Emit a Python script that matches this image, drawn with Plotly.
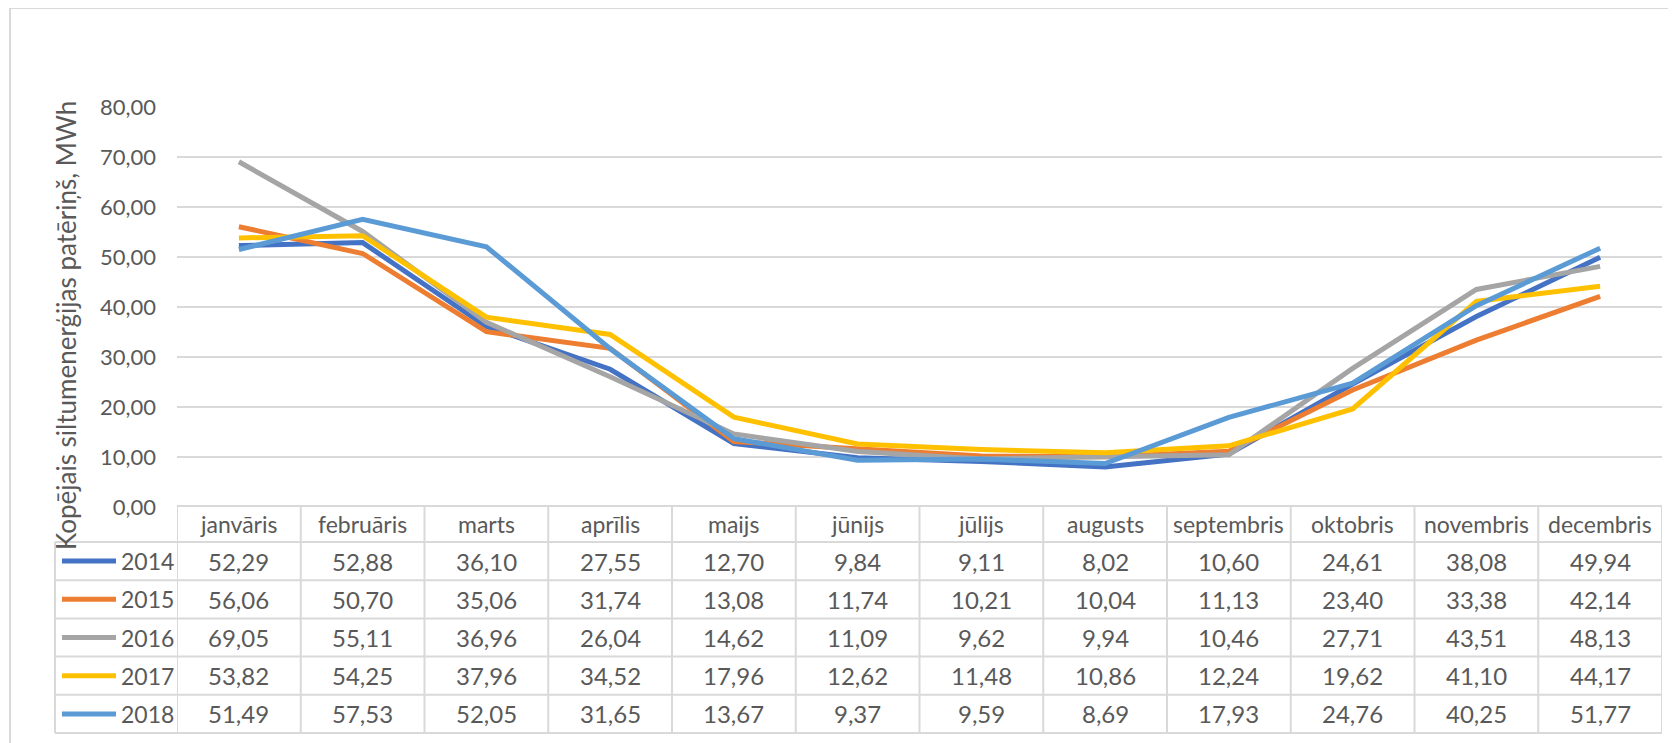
import plotly.graph_objects as go

months = ["janvāris", "februāris", "marts", "aprīlis", "maijs", "jūnijs", "jūlijs",
          "augusts", "septembris", "oktobris", "novembris", "decembris"]
years = ["2014", "2015", "2016", "2017", "2018"]
v2014 = [52.29, 52.88, 36.10, 27.55, 12.70, 9.84, 9.11, 8.02, 10.60, 24.61, 38.08, 49.94]
v2015 = [56.06, 50.70, 35.06, 31.74, 13.08, 11.74, 10.21, 10.04, 11.13, 23.40, 33.38, 42.14]
v2016 = [69.05, 55.11, 36.96, 26.04, 14.62, 11.09, 9.62, 9.94, 10.46, 27.71, 43.51, 48.13]
v2017 = [53.82, 54.25, 37.96, 34.52, 17.96, 12.62, 11.48, 10.86, 12.24, 19.62, 41.10, 44.17]
v2018 = [51.49, 57.53, 52.05, 31.65, 13.67, 9.37, 9.59, 8.69, 17.93, 24.76, 40.25, 51.77]
series = [v2014, v2015, v2016, v2017, v2018]
colors = ["#4472C4", "#ED7D31", "#A5A5A5", "#FFC000", "#5B9BD5"]
y_title = "Kopējais siltumenerģijas patēriņš, MWh"

# page body has an 8px default margin; work in page coordinates and shift
OFF = 8
W, H = 1676 - OFF, 743 - OFF
L, R = 177 - OFF, 1662 - OFF
T, B = 107 - OFF, 507 - OFF
PW, PH = R - L, B - T
FONT = "Lato"
TXT = "#595959"
GRID = "#D9D9D9"

def px(x):
    return (x - OFF - L) / PW

def py(y):
    return (B - (y - OFF)) / PH

xs = list(range(len(months)))
fig = go.Figure()
for name, vals, c in zip(years, series, colors):
    fig.add_trace(go.Scatter(x=xs, y=vals, mode="lines", name=name,
                             line=dict(color=c, width=5), hoverinfo="skip"))

shapes = []
annotations = []

# outer chart border
shapes.append(dict(type="rect", xref="paper", yref="paper", x0=px(10), x1=px(1700),
                   y0=py(780), y1=py(8), line=dict(color=GRID, width=2), layer="below"))

# table geometry (page pixel coordinates)
header_top, header_bot = 506, 542
row_h = (733 - 542) / 5
row_edges = [header_bot + i * row_h for i in range(6)]
leg_left = 55

shapes.append(dict(type="line", xref="paper", yref="paper", x0=px(177), x1=px(1662),
                   y0=py(header_top), y1=py(header_top), line=dict(color=GRID, width=2)))
for ye in row_edges:
    shapes.append(dict(type="line", xref="paper", yref="paper", x0=px(leg_left), x1=px(1662),
                       y0=py(ye), y1=py(ye), line=dict(color=GRID, width=2)))
for i in range(len(months) + 1):
    shapes.append(dict(type="line", xref="x", yref="paper", x0=i - 0.5, x1=i - 0.5,
                       y0=py(header_top), y1=py(733), line=dict(color=GRID, width=2)))
shapes.append(dict(type="line", xref="paper", yref="paper", x0=px(leg_left), x1=px(leg_left),
                   y0=py(header_bot), y1=py(733), line=dict(color=GRID, width=2)))

for i, m in enumerate(months):
    annotations.append(dict(x=i, y=py((header_top + header_bot) / 2), xref="x", yref="paper",
                            text=m, showarrow=False, xanchor="center", yanchor="middle",
                            font=dict(family=FONT, size=23, color=TXT)))
for r, (name, vals, c) in enumerate(zip(years, series, colors)):
    yc = (row_edges[r] + row_edges[r + 1]) / 2
    shapes.append(dict(type="line", xref="paper", yref="paper", x0=px(62), x1=px(116),
                       y0=py(yc), y1=py(yc), line=dict(color=c, width=5)))
    annotations.append(dict(x=px(119), y=py(yc), xref="paper", yref="paper", text=name,
                            showarrow=False, xanchor="left", yanchor="middle",
                            font=dict(family=FONT, size=23, color=TXT)))
    for i, v in enumerate(vals):
        annotations.append(dict(x=i, y=py(yc), xref="x", yref="paper",
                                text=f"{v:.2f}".replace(".", ","), showarrow=False,
                                xanchor="center", yanchor="middle",
                                font=dict(family=FONT, size=24, color=TXT)))

annotations.append(dict(x=px(66), y=py(326), xref="paper", yref="paper", text=y_title,
                        textangle=-90, showarrow=False, xanchor="center", yanchor="middle",
                        font=dict(family=FONT, size=26, color=TXT)))

fig.update_layout(
    width=W, height=H,
    margin=dict(l=L, r=W - R, t=T, b=H - B, pad=0),
    paper_bgcolor="white", plot_bgcolor="white",
    showlegend=False,
    separators=", ",
    xaxis=dict(range=[-0.5, len(months) - 0.5], showgrid=False, zeroline=False,
               showticklabels=False, ticks="", showline=False, fixedrange=True),
    yaxis=dict(range=[0, 80], tickvals=[0, 10, 20, 30, 40, 50, 60, 70, 80], tickformat=".2f",
               showgrid=True, gridcolor=GRID, gridwidth=2, zeroline=False, showline=False,
               ticks="", ticklabelstandoff=20,
               tickfont=dict(family=FONT, size=22, color=TXT), fixedrange=True),
    shapes=shapes,
    annotations=annotations,
)

fig.write_html("out.html")
